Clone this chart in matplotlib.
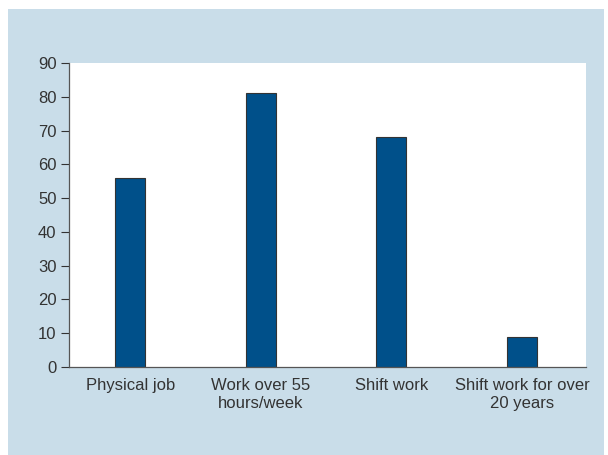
import matplotlib.pyplot as plt
from matplotlib.patches import Rectangle

plt.rcParams['font.family'] = ['Liberation Sans Narrow', 'Liberation Sans', 'DejaVu Sans']

# Data
categories = ['Physical job', 'Work over 55\nhours/week', 'Shift work', 'Shift work for over\n20 years']
values = [56, 81, 68, 9]
yticks = [0, 10, 20, 30, 40, 50, 60, 70, 80, 90]

W, H = 608, 455
fig = plt.figure(figsize=(W / 100, H / 100), dpi=100, facecolor='white')

# light blue panel behind the chart
fig.patches.append(Rectangle((8 / W, 0), (604 - 8) / W, (H - 9) / H,
                             transform=fig.transFigure, facecolor='#c9dde9',
                             edgecolor='none', zorder=-5))

ax = fig.add_axes([69 / W, (H - 367) / H, (586 - 69) / W, (367 - 63) / H])
ax.set_facecolor('white')
ax.set_zorder(1)

x = range(len(categories))
ax.bar(x, values, width=0.23, color='#00508a', edgecolor='#333333', linewidth=0.8)

ax.set_xlim(-0.47, 3.49)
ax.set_ylim(0, 90)
ax.set_yticks(yticks)
ax.set_xticks(list(x))
ax.set_xticklabels(categories, fontsize=12, color='#333333', linespacing=1.25)
ax.tick_params(axis='y', labelsize=12, colors='#333333', length=6, width=0.8, pad=3)
ax.tick_params(axis='x', length=0, pad=8)
for s in ['top', 'right']:
    ax.spines[s].set_visible(False)
for s in ['left', 'bottom']:
    ax.spines[s].set_color('#555555')
    ax.spines[s].set_linewidth(0.9)

plt.savefig('out.png', dpi=100)
plt.close()
